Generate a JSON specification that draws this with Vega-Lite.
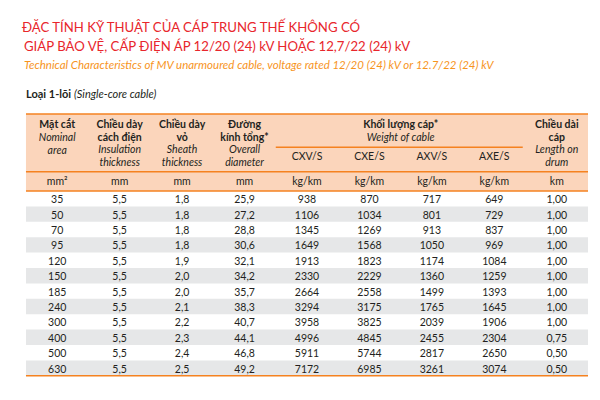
{
  "$schema": "https://vega.github.io/schema/vega-lite/v6.json",
  "width": 600,
  "height": 400,
  "padding": 0,
  "autosize": {"type": "fit", "contains": "padding"},
  "background": "white",
  "config": {
    "view": {"stroke": null},
    "text": {"font": "Lato", "color": "#231f20"},
    "locale": {"number": {"decimal": ",", "thousands": ".", "grouping": [3], "currency": ["", ""]}}
  },
  "datasets": {
    "body": [
      {"row": "r1", "area": 35, "ins": 5.5, "sheath": 1.8, "diam": 25.9, "cxv": 938, "cxe": 870, "axv": 717, "axe": 649, "len": 1.0},
      {"row": "r2", "area": 50, "ins": 5.5, "sheath": 1.8, "diam": 27.2, "cxv": 1106, "cxe": 1034, "axv": 801, "axe": 729, "len": 1.0},
      {"row": "r3", "area": 70, "ins": 5.5, "sheath": 1.8, "diam": 28.8, "cxv": 1345, "cxe": 1269, "axv": 913, "axe": 837, "len": 1.0},
      {"row": "r4", "area": 95, "ins": 5.5, "sheath": 1.8, "diam": 30.6, "cxv": 1649, "cxe": 1568, "axv": 1050, "axe": 969, "len": 1.0},
      {"row": "r5", "area": 120, "ins": 5.5, "sheath": 1.9, "diam": 32.1, "cxv": 1913, "cxe": 1823, "axv": 1174, "axe": 1084, "len": 1.0},
      {"row": "r6", "area": 150, "ins": 5.5, "sheath": 2.0, "diam": 34.2, "cxv": 2330, "cxe": 2229, "axv": 1360, "axe": 1259, "len": 1.0},
      {"row": "r7", "area": 185, "ins": 5.5, "sheath": 2.0, "diam": 35.7, "cxv": 2664, "cxe": 2558, "axv": 1499, "axe": 1393, "len": 1.0},
      {"row": "r8", "area": 240, "ins": 5.5, "sheath": 2.1, "diam": 38.3, "cxv": 3294, "cxe": 3175, "axv": 1765, "axe": 1645, "len": 1.0},
      {"row": "r9", "area": 300, "ins": 5.5, "sheath": 2.2, "diam": 40.7, "cxv": 3958, "cxe": 3825, "axv": 2039, "axe": 1906, "len": 1.0},
      {"row": "r10", "area": 400, "ins": 5.5, "sheath": 2.3, "diam": 44.1, "cxv": 4996, "cxe": 4845, "axv": 2455, "axe": 2304, "len": 0.75},
      {"row": "r11", "area": 500, "ins": 5.5, "sheath": 2.4, "diam": 46.8, "cxv": 5911, "cxe": 5744, "axv": 2817, "axe": 2650, "len": 0.5},
      {"row": "r12", "area": 630, "ins": 5.5, "sheath": 2.5, "diam": 49.2, "cxv": 7172, "cxe": 6985, "axv": 3261, "axe": 3074, "len": 0.5}
    ],
    "head": [
      {"col": "area", "row": "h1", "lang": "vi", "text": "Mặt cắt"},
      {"col": "area", "row": "h2", "lang": "en", "text": "Nominal\narea"},
      {"col": "ins", "row": "h1", "lang": "vi", "text": "Chiều dày\ncách điện"},
      {"col": "ins", "row": "h3", "lang": "en", "text": "Insulation\nthickness"},
      {"col": "sheath", "row": "h1", "lang": "vi", "text": "Chiều dày\nvỏ"},
      {"col": "sheath", "row": "h3", "lang": "en", "text": "Sheath\nthickness"},
      {"col": "diam", "row": "h1", "lang": "vi", "text": "Đường\nkính tổng*"},
      {"col": "diam", "row": "h3", "lang": "en", "text": "Overall\ndiameter"},
      {"col": "len", "row": "h1", "lang": "vi", "text": "Chiều dài\ncáp"},
      {"col": "len", "row": "h3", "lang": "en", "text": "Length on\ndrum"},
      {"col": "axv", "row": "h1", "lang": "vi_span", "text": "Khối lượng cáp*"},
      {"col": "axv", "row": "h2", "lang": "en_span", "text": "Weight of cable"},
      {"col": "cxv", "row": "h3", "lang": "code", "text": "CXV/S"},
      {"col": "cxe", "row": "h3", "lang": "code", "text": "CXE/S"},
      {"col": "axv", "row": "h3", "lang": "code", "text": "AXV/S"},
      {"col": "axe", "row": "h3", "lang": "code", "text": "AXE/S"},
      {"col": "area", "row": "u", "lang": "unit", "text": "mm²"},
      {"col": "ins", "row": "u", "lang": "unit", "text": "mm"},
      {"col": "sheath", "row": "u", "lang": "unit", "text": "mm"},
      {"col": "diam", "row": "u", "lang": "unit", "text": "mm"},
      {"col": "cxv", "row": "u", "lang": "unit", "text": "kg/km"},
      {"col": "cxe", "row": "u", "lang": "unit", "text": "kg/km"},
      {"col": "axv", "row": "u", "lang": "unit", "text": "kg/km"},
      {"col": "axe", "row": "u", "lang": "unit", "text": "kg/km"},
      {"col": "len", "row": "u", "lang": "unit", "text": "km"}
    ]
  },
  "layer": [
    {
      "data": {"values": [{}]},
      "mark": {"type": "rect", "fill": "#fbd5bb"},
      "encoding": {
        "x": {"datum": "area", "type": "nominal", "bandPosition": 0, "axis": null,
              "scale": {"type": "band", "domain": ["area", "ins", "sheath", "diam", "cxv", "cxe", "axv", "axe", "len"], "paddingInner": 0, "paddingOuter": 0.304, "align": 0.684}},
        "x2": {"datum": "len", "bandPosition": 1},
        "y": {"datum": "h1", "type": "nominal", "bandPosition": 0, "axis": null,
              "scale": {"type": "band", "domain": ["y0", "t1", "t2", "t3", "g1", "g2", "cap", "h1", "h2", "h3", "h4", "u", "r1", "r2", "r3", "r4", "r5", "r6", "r7", "r8", "r9", "r10", "r11", "r12"], "paddingInner": 0, "paddingOuter": 0.987, "align": 0.204}},
        "y2": {"datum": "r1", "bandPosition": 0}
      }
    },
    {
      "data": {"name": "body"},
      "transform": [{"filter": {"field": "row", "oneOf": ["r2", "r4", "r6", "r8", "r10", "r12"]}}],
      "mark": {"type": "rect", "fill": "#e6e7e8"},
      "encoding": {
        "x": {"datum": "area", "type": "nominal", "bandPosition": 0, "axis": null},
        "x2": {"datum": "len", "bandPosition": 1},
        "y": {"field": "row", "type": "nominal", "axis": null}
      }
    },
    {
      "data": {"values": [{}]},
      "mark": {"type": "rule", "stroke": "#f58220", "strokeWidth": 1.4},
      "encoding": {
        "x": {"datum": "area", "type": "nominal", "bandPosition": 0, "axis": null},
        "x2": {"datum": "len", "bandPosition": 1},
        "y": {"datum": "h1", "type": "nominal", "bandPosition": 0, "axis": null}
      }
    },
    {
      "data": {"values": [{}]},
      "mark": {"type": "rule", "stroke": "#f58220", "strokeWidth": 1.4},
      "encoding": {
        "x": {"datum": "cxv", "type": "nominal", "bandPosition": 0, "axis": null},
        "x2": {"datum": "axe", "bandPosition": 0.955},
        "y": {"datum": "h3", "type": "nominal", "bandPosition": 0.16, "axis": null}
      }
    },
    {
      "data": {"values": [{}]},
      "mark": {"type": "rule", "stroke": "#f58220", "strokeWidth": 1.4},
      "encoding": {
        "x": {"datum": "area", "type": "nominal", "bandPosition": 0, "axis": null},
        "x2": {"datum": "len", "bandPosition": 1},
        "y": {"datum": "h4", "type": "nominal", "bandPosition": 0.75, "axis": null}
      }
    },
    {
      "data": {"values": [{}]},
      "mark": {"type": "rule", "stroke": "#f58220", "strokeWidth": 1.4},
      "encoding": {
        "x": {"datum": "area", "type": "nominal", "bandPosition": 0, "axis": null},
        "x2": {"datum": "len", "bandPosition": 1},
        "y": {"datum": "r1", "type": "nominal", "bandPosition": 0, "axis": null}
      }
    },
    {
      "data": {"values": [{}]},
      "mark": {"type": "rule", "stroke": "#f58220", "strokeWidth": 1.4},
      "encoding": {
        "x": {"datum": "area", "type": "nominal", "bandPosition": 0, "axis": null},
        "x2": {"datum": "len", "bandPosition": 1},
        "y": {"datum": "r12", "type": "nominal", "bandPosition": 1, "axis": null}
      }
    },
    {
      "data": {"values": [{"row": "t1", "text": "ĐẶC TÍNH KỸ THUẬT CỦA CÁP TRUNG THẾ KHÔNG CÓ"}]},
      "mark": {"type": "text", "align": "left", "baseline": "middle", "fontSize": 13.2, "color": "#e8262c", "dx": -4, "dy": -1},
      "encoding": {
        "x": {"datum": "area", "type": "nominal", "bandPosition": 0, "axis": null},
        "y": {"field": "row", "type": "nominal", "axis": null},
        "text": {"field": "text"}
      }
    },
    {
      "data": {"values": [{"row": "t2", "text": "GIÁP BẢO VỆ, CẤP ĐIỆN ÁP 12/20 (24) kV HOẶC 12,7/22 (24) kV"}]},
      "mark": {"type": "text", "align": "left", "baseline": "middle", "fontSize": 13.2, "color": "#e8262c", "dx": -2, "dy": 1.8},
      "encoding": {
        "x": {"datum": "area", "type": "nominal", "bandPosition": 0, "axis": null},
        "y": {"field": "row", "type": "nominal", "axis": null},
        "text": {"field": "text"}
      }
    },
    {
      "data": {"values": [{"row": "t3", "text": "Technical Characteristics of MV unarmoured cable, voltage rated 12/20 (24) kV or 12.7/22 (24) kV"}]},
      "mark": {"type": "text", "align": "left", "baseline": "middle", "fontSize": 11.5, "fontStyle": "italic", "color": "#f7941d", "dx": -2, "dy": 5.4},
      "encoding": {
        "x": {"datum": "area", "type": "nominal", "bandPosition": 0, "axis": null},
        "y": {"field": "row", "type": "nominal", "axis": null},
        "text": {"field": "text"}
      }
    },
    {
      "data": {"values": [{"row": "cap", "text": "Loại 1-lõi"}]},
      "mark": {"type": "text", "align": "left", "baseline": "middle", "fontSize": 11, "fontWeight": "bold", "dy": -11},
      "encoding": {
        "x": {"datum": "area", "type": "nominal", "bandPosition": 0, "axis": null},
        "y": {"field": "row", "type": "nominal", "axis": null},
        "text": {"field": "text"}
      }
    },
    {
      "data": {"values": [{"row": "cap", "text": "(Single-core cable)"}]},
      "mark": {"type": "text", "align": "left", "baseline": "middle", "fontSize": 11, "fontStyle": "italic", "dx": 48, "dy": -11},
      "encoding": {
        "x": {"datum": "area", "type": "nominal", "bandPosition": 0, "axis": null},
        "y": {"field": "row", "type": "nominal", "axis": null},
        "text": {"field": "text"}
      }
    },
    {
      "data": {"name": "head"},
      "transform": [{"filter": "datum.lang == 'vi'"}],
      "mark": {"type": "text", "align": "center", "baseline": "top", "lineBreak": "\n", "lineHeight": 12.7, "fontSize": 10.5, "fontWeight": "bold", "dy": -1.6},
      "encoding": {
        "x": {"field": "col", "type": "nominal", "axis": null},
        "y": {"field": "row", "type": "nominal", "axis": null},
        "text": {"field": "text"}
      }
    },
    {
      "data": {"name": "head"},
      "transform": [{"filter": "datum.lang == 'en' && datum.row == 'h2'"}],
      "mark": {"type": "text", "align": "center", "baseline": "top", "lineBreak": "\n", "lineHeight": 12.7, "fontSize": 10.5, "fontStyle": "italic", "dy": -3.7},
      "encoding": {
        "x": {"field": "col", "type": "nominal", "axis": null},
        "y": {"field": "row", "type": "nominal", "axis": null},
        "text": {"field": "text"}
      }
    },
    {
      "data": {"name": "head"},
      "transform": [{"filter": "datum.lang == 'en' && datum.row == 'h3'"}],
      "mark": {"type": "text", "align": "center", "baseline": "top", "lineBreak": "\n", "lineHeight": 12.7, "fontSize": 10.5, "fontStyle": "italic", "dy": -7.1},
      "encoding": {
        "x": {"field": "col", "type": "nominal", "axis": null},
        "y": {"field": "row", "type": "nominal", "axis": null},
        "text": {"field": "text"}
      }
    },
    {
      "data": {"name": "head"},
      "transform": [{"filter": "datum.lang == 'vi_span'"}],
      "mark": {"type": "text", "align": "center", "baseline": "top", "fontSize": 10.5, "fontWeight": "bold", "dy": -1.6},
      "encoding": {
        "x": {"field": "col", "type": "nominal", "bandPosition": 0, "axis": null},
        "y": {"field": "row", "type": "nominal", "axis": null},
        "text": {"field": "text"}
      }
    },
    {
      "data": {"name": "head"},
      "transform": [{"filter": "datum.lang == 'en_span'"}],
      "mark": {"type": "text", "align": "center", "baseline": "top", "fontSize": 10.5, "fontStyle": "italic", "dy": -3.7},
      "encoding": {
        "x": {"field": "col", "type": "nominal", "bandPosition": 0, "axis": null},
        "y": {"field": "row", "type": "nominal", "axis": null},
        "text": {"field": "text"}
      }
    },
    {
      "data": {"name": "head"},
      "transform": [{"filter": "datum.lang == 'code'"}],
      "mark": {"type": "text", "align": "center", "baseline": "middle", "fontSize": 10.5, "dy": 4.8},
      "encoding": {
        "x": {"field": "col", "type": "nominal", "axis": null},
        "y": {"field": "row", "type": "nominal", "axis": null},
        "text": {"field": "text"}
      }
    },
    {
      "data": {"name": "head"},
      "transform": [{"filter": "datum.lang == 'unit'"}],
      "mark": {"type": "text", "align": "center", "baseline": "middle", "fontSize": 10.5, "dy": -1.2},
      "encoding": {
        "x": {"field": "col", "type": "nominal", "axis": null},
        "y": {"field": "row", "type": "nominal", "axis": null},
        "text": {"field": "text"}
      }
    },
    {
      "data": {"name": "body"},
      "transform": [
        {"fold": ["area", "cxv", "cxe", "axv", "axe"], "as": ["col", "v"]}
      ],
      "mark": {"type": "text", "align": "center", "baseline": "middle", "fontSize": 10.5, "dy": 1.5},
      "encoding": {
        "x": {"field": "col", "type": "nominal", "axis": null},
        "y": {"field": "row", "type": "nominal", "axis": null},
        "text": {"field": "v", "type": "quantitative", "format": "d"}
      }
    },
    {
      "data": {"name": "body"},
      "transform": [
        {"fold": ["ins", "sheath", "diam"], "as": ["col", "v"]}
      ],
      "mark": {"type": "text", "align": "center", "baseline": "middle", "fontSize": 10.5, "dy": 1.5},
      "encoding": {
        "x": {"field": "col", "type": "nominal", "axis": null},
        "y": {"field": "row", "type": "nominal", "axis": null},
        "text": {"field": "v", "type": "quantitative", "format": ".1f"}
      }
    },
    {
      "data": {"name": "body"},
      "transform": [
        {"fold": ["len"], "as": ["col", "v"]}
      ],
      "mark": {"type": "text", "align": "center", "baseline": "middle", "fontSize": 10.5, "dy": 1.5},
      "encoding": {
        "x": {"field": "col", "type": "nominal", "axis": null},
        "y": {"field": "row", "type": "nominal", "axis": null},
        "text": {"field": "v", "type": "quantitative", "format": ".2f"}
      }
    }
  ]
}
